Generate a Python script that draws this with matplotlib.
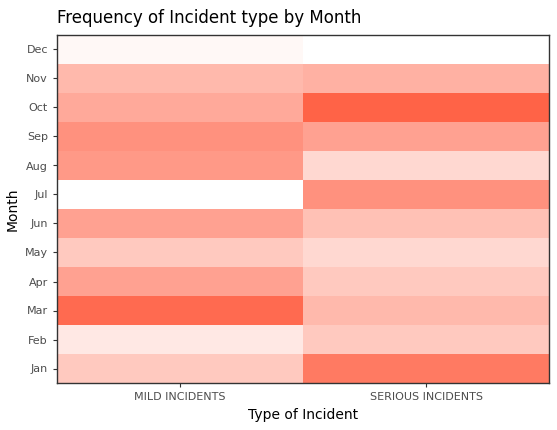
import matplotlib
matplotlib.use("Agg")
import matplotlib.pyplot as plt
import numpy as np
from matplotlib.colors import LinearSegmentedColormap

months = ["Jan","Feb","Mar","Apr","May","Jun","Jul","Aug","Sep","Oct","Nov","Dec"]
types = ["MILD INCIDENTS", "SERIOUS INCIDENTS"]
mild = [7, 3, 19, 12, 7, 12, 0, 13, 14, 11, 9, 1]
serious = [17, 7, 9, 7, 5, 8, 14, 5, 12, 20, 10, 0]

data = np.array([mild, serious]).T
cmap = LinearSegmentedColormap.from_list("c", ["#FFFFFF", "#FF6347"])

fig = plt.figure(figsize=(5.57, 4.30), dpi=100)
ax = fig.add_axes([57/557, 47/430, 492/557, 348/430])
ax.pcolormesh(np.arange(3), np.arange(13), data, cmap=cmap, vmin=0, vmax=20)
ax.set_xlim(0, 2); ax.set_ylim(0, 12)
ax.set_xticks([0.5, 1.5]); ax.set_xticklabels(types)
ax.set_yticks(np.arange(12) + 0.5); ax.set_yticklabels(months)
ax.tick_params(labelsize=8, colors="#4D4D4D", length=3)
ax.tick_params(colors="#333333")
for lab in ax.get_xticklabels() + ax.get_yticklabels():
    lab.set_color("#4D4D4D")
for s in ax.spines.values():
    s.set_color("#333333"); s.set_linewidth(1)
ax.set_xlabel("Type of Incident", fontsize=10)
ax.set_ylabel("Month", fontsize=10)
fig.text(57/557, 1 - 18/430, "Frequency of Incident type by Month", fontsize=12, va="center")
fig.savefig("out.png", dpi=100)
